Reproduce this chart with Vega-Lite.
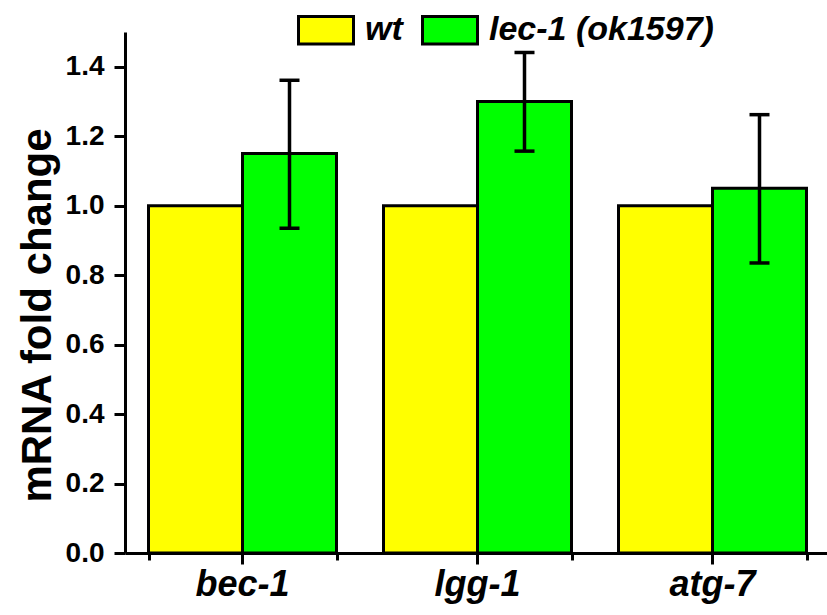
{
  "$schema": "https://vega.github.io/schema/vega-lite/v6.json",
  "autosize": "none",
  "padding": {"left": 125, "top": 32, "right": 0, "bottom": 62},
  "width": 705,
  "height": 521,
  "background": "white",
  "config": {
    "view": {"stroke": null},
    "font": "Liberation Sans"
  },
  "datasets": {
    "bars": [
      {"gene": "bec-1", "group": "wt", "value": 1.0},
      {"gene": "bec-1", "group": "lec-1 (ok1597)", "value": 1.15},
      {"gene": "lgg-1", "group": "wt", "value": 1.0},
      {"gene": "lgg-1", "group": "lec-1 (ok1597)", "value": 1.30},
      {"gene": "atg-7", "group": "wt", "value": 1.0},
      {"gene": "atg-7", "group": "lec-1 (ok1597)", "value": 1.05}
    ],
    "errs": [
      {"gene": "bec-1", "group": "lec-1 (ok1597)", "lo": 0.935, "hi": 1.361},
      {"gene": "lgg-1", "group": "lec-1 (ok1597)", "lo": 1.157, "hi": 1.441},
      {"gene": "atg-7", "group": "lec-1 (ok1597)", "lo": 0.835, "hi": 1.262}
    ]
  },
  "resolve": {"axis": {"x": "independent"}},
  "layer": [
    {
      "data": {"name": "bars"},
      "mark": {"type": "bar", "stroke": "black", "strokeWidth": 3},
      "encoding": {
        "x": {
          "field": "gene", "type": "nominal",
          "sort": ["bec-1", "lgg-1", "atg-7"],
          "scale": {"paddingInner": 0.2, "paddingOuter": 0.1},
          "axis": {
            "title": null,
            "orient": "bottom",
            "tickBand": "extent",
            "labels": false,
            "domain": false,
            "tickSize": 7,
            "tickWidth": 3,
            "tickColor": "black"
          }
        },
        "xOffset": {
          "field": "group", "type": "nominal",
          "sort": ["wt", "lec-1 (ok1597)"],
          "scale": {"paddingInner": 0, "paddingOuter": 0}
        },
        "y": {
          "field": "value", "type": "quantitative",
          "scale": {"domain": [0, 1.5], "nice": false},
          "axis": {
            "title": "mRNA fold change",
            "titleFont": "Liberation Sans",
            "titleFontSize": 42,
            "titleFontWeight": "bold",
            "titleColor": "black",
            "titleX": -66,
            "titleY": 283,
            "values": [0, 0.1, 0.2, 0.3, 0.4, 0.5, 0.6, 0.7, 0.8, 0.9, 1.0, 1.1, 1.2, 1.3, 1.4],
            "labelExpr": "round(datum.value*10) % 2 == 0 ? format(datum.value, '.1f') : ''",
            "labelFont": "Liberation Sans",
            "labelFontSize": 28,
            "labelFontWeight": "bold",
            "labelColor": "black",
            "labelPadding": 10,
            "tickSize": {"condition": {"test": "round(datum.value*10) % 2 == 0", "value": 11}, "value": 7},
            "tickWidth": 3,
            "tickColor": "black",
            "domainWidth": 3,
            "domainColor": "black",
            "grid": false
          }
        },
        "color": {
          "field": "group", "type": "nominal",
          "sort": ["wt", "lec-1 (ok1597)"],
          "scale": {"domain": ["wt", "lec-1 (ok1597)"], "range": ["#ffff00", "#00ff00"]},
          "legend": {
            "title": null,
            "orient": "none",
            "direction": "horizontal",
            "legendX": 172,
            "legendY": -31,
            "symbolType": "M-1,-0.5L1,-0.5L1,0.5L-1,0.5Z",
            "symbolSize": 3025,
            "symbolStrokeColor": "black",
            "symbolStrokeWidth": 3,
            "symbolOpacity": 1,
            "labelFont": "Liberation Sans",
            "labelFontSize": 34,
            "labelFontWeight": "bold",
            "labelFontStyle": "italic",
            "labelColor": "black",
            "labelOffset": 10,
            "columnPadding": 13,
            "labelLimit": 400
          }
        }
      }
    },
    {
      "data": {"name": "errs"},
      "mark": {"type": "rule", "color": "black", "strokeWidth": 3.5},
      "encoding": {
        "x": {
          "field": "gene", "type": "nominal", "sort": ["bec-1", "lgg-1", "atg-7"],
          "axis": {
            "title": null,
            "orient": "bottom",
            "labelAngle": 0,
            "labelFont": "Liberation Sans",
            "labelFontSize": 36,
            "labelFontWeight": "bold",
            "labelFontStyle": "italic",
            "labelColor": "black",
            "labelPadding": 3,
            "tickSize": 11,
            "tickWidth": 3,
            "tickColor": "black",
            "domainWidth": 3,
            "domainColor": "black"
          }
        },
        "xOffset": {"field": "group", "type": "nominal", "sort": ["wt", "lec-1 (ok1597)"]},
        "y": {"field": "lo", "type": "quantitative"},
        "y2": {"field": "hi"}
      }
    },
    {
      "data": {"name": "errs"},
      "mark": {"type": "tick", "color": "black", "size": 20, "thickness": 3.5, "opacity": 1},
      "encoding": {
        "x": {"field": "gene", "type": "nominal", "sort": ["bec-1", "lgg-1", "atg-7"], "axis": null},
        "xOffset": {"field": "group", "type": "nominal", "sort": ["wt", "lec-1 (ok1597)"]},
        "y": {"field": "lo", "type": "quantitative"}
      }
    },
    {
      "data": {"name": "errs"},
      "mark": {"type": "tick", "color": "black", "size": 20, "thickness": 3.5, "opacity": 1},
      "encoding": {
        "x": {"field": "gene", "type": "nominal", "sort": ["bec-1", "lgg-1", "atg-7"], "axis": null},
        "xOffset": {"field": "group", "type": "nominal", "sort": ["wt", "lec-1 (ok1597)"]},
        "y": {"field": "hi", "type": "quantitative"}
      }
    }
  ]
}
